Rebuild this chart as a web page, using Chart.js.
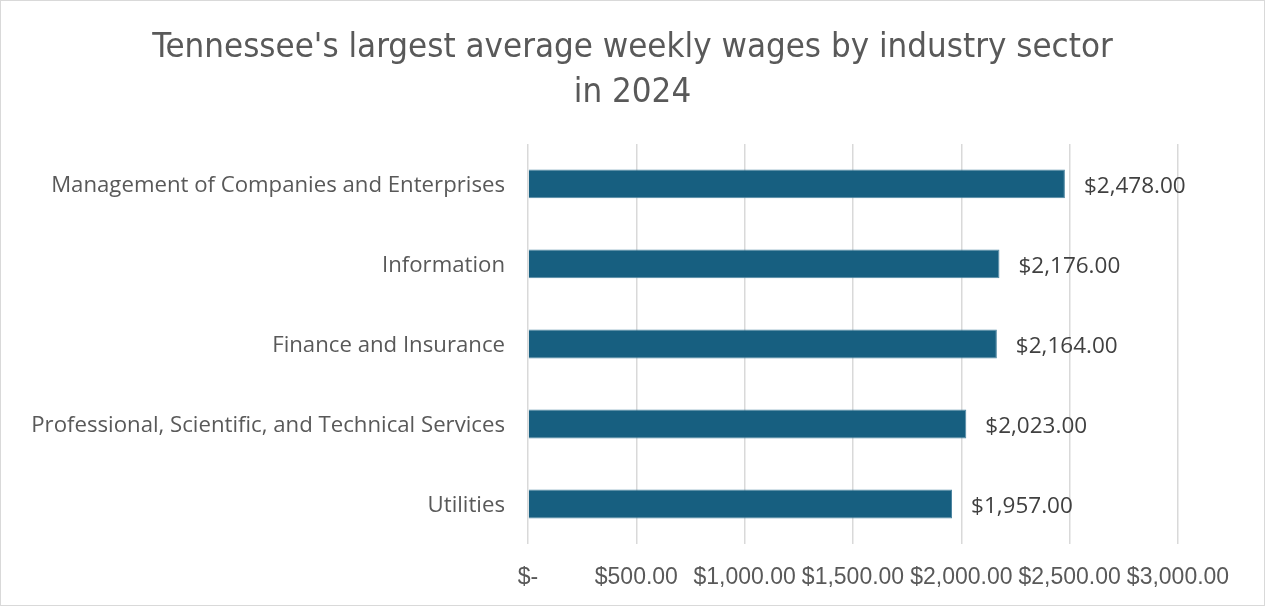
<!DOCTYPE html>
<html>
<head>
<meta charset="utf-8">
<script src="https://cdn.jsdelivr.net/npm/chart.js@4/dist/chart.umd.min.js"></script>
<style>
  body { margin: 0; background: #fff; }
  #wrap { width: 1265px; height: 606px; box-sizing: border-box; border: 1px solid #d9d9d9; }
</style>
</head>
<body>
<div id="wrap"><canvas id="wChart" width="1263" height="604"></canvas></div>
<script>
// Average weekly wages, top five sectors
var sectors = [
    'Management of Companies and Enterprises',
    'Information',
    'Finance and Insurance',
    'Professional, Scientific, and Technical Services',
    'Utilities'
];
var wages = [2478, 2176, 2164, 2023, 1957];
var tickValues = [0, 500, 1000, 1500, 2000, 2500, 3000];

function money(v) {
    if (v === 0) return '$-';
    return '$' + v.toLocaleString('en-US', { minimumFractionDigits: 2, maximumFractionDigits: 2 });
}

// value text to the right of each bar
var barLabels = {
    id: 'barLabels',
    afterDatasetsDraw: function(chart) {
        var ctx = chart.ctx;
        var meta = chart.getDatasetMeta(0);
        ctx.save();
        ctx.font = '22.5px "Open Sans", sans-serif';
        ctx.fillStyle = '#404040';
        ctx.textAlign = 'left';
        ctx.textBaseline = 'middle';
        meta.data.forEach(function(bar, i) {
            ctx.fillText(money(chart.data.datasets[0].data[i]), bar.x + 19, bar.y + 3);
        });
        ctx.restore();
    }
};

window.onload = function() {
    var ctx = document.getElementById('wChart').getContext('2d');
    var wChart = new Chart(ctx, {
        type: 'bar',
        data: {
            labels: sectors,
            datasets: [{
                label: 'Average weekly wage',
                data: wages,
                backgroundColor: '#175f80',
                borderColor: '#4f87a2',
                borderWidth: 1,
                categoryPercentage: 1,
                barPercentage: 0.36
            }]
        },
        plugins: [barLabels],
        options: {
            responsive: false,
            animation: false,
            indexAxis: 'y',
            layout: {
                padding: 0
            },
            plugins: {
                legend: { display: false },
                tooltip: { enabled: false },
                title: {
                    display: true,
                    text: ["Tennessee's largest average weekly wages by industry sector", 'in 2024'],
                    font: { family: '"DejaVu Sans Condensed", "Liberation Sans Narrow", sans-serif', size: 34.6, weight: 'normal', lineHeight: 1.3 },
                    color: '#595959',
                    padding: { top: 25, bottom: 28 }
                }
            },
            scales: {
                x: {
                    min: 0,
                    max: 3000,
                    afterBuildTicks: function(scale) {
                        scale.ticks = tickValues.map(function(v) { return { value: v }; });
                    },
                    afterFit: function(scale) { scale.height = 61; },
                    grid: { color: '#d9d9d9', lineWidth: 1.5, drawTicks: false },
                    border: { display: false },
                    ticks: {
                        padding: 20,
                        maxRotation: 0,
                        autoSkip: false,
                        color: '#595959',
                        font: { family: '"Liberation Sans Narrow", sans-serif', size: 23 },
                        callback: function(value) { return money(value); }
                    }
                },
                y: {
                    afterFit: function(scale) { scale.width = 527; },
                    grid: { display: false },
                    border: { display: false },
                    ticks: {
                        padding: 15,
                        labelOffset: 2,
                        color: '#595959',
                        font: { family: '"Open Sans", sans-serif', size: 22.2 }
                    }
                },
                // empty right-hand gutter so the title stays centred on the page
                gutter: {
                    type: 'linear',
                    position: 'right',
                    afterFit: function(scale) { scale.width = 86; },
                    grid: { display: false },
                    border: { display: false },
                    ticks: { display: false }
                }
            }
        }
    });
};
</script>
</body>
</html>
